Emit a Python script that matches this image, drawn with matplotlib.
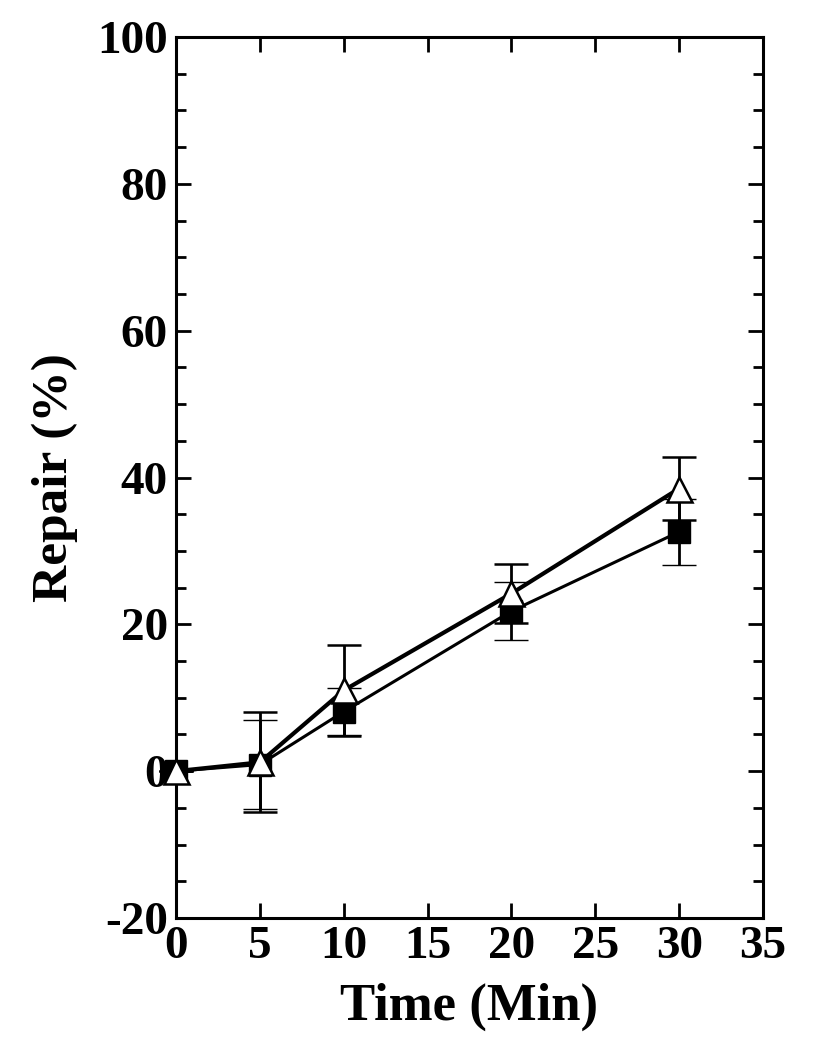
import matplotlib
matplotlib.use("Agg")
import matplotlib.pyplot as plt
from matplotlib.ticker import MultipleLocator

plt.rcParams['font.family'] = ['Liberation Serif', 'DejaVu Serif']
plt.rcParams['font.weight'] = 'bold'
plt.rcParams['axes.unicode_minus'] = False

time_min = [0, 5, 10, 20, 30]
square_vals = [0.0, 0.9, 8.1, 21.8, 32.6]
square_err = [0.0, 6.1, 3.2, 3.9, 4.5]
triangle_vals = [0.0, 1.2, 11.0, 24.2, 38.5]
triangle_err = [0.0, 6.8, 6.2, 4.0, 4.3]

x_ticks = [0, 5, 10, 15, 20, 25, 30, 35]
y_ticks = [-20, 0, 20, 40, 60, 80, 100]

fig = plt.figure(figsize=(8.15, 10.5), dpi=100)
ax = fig.add_axes([176/815, (1050-918)/1050, (763-176)/815, (918-37)/1050])

ax.errorbar(time_min, square_vals, yerr=square_err, color='black', lw=2.2,
            marker='s', ms=16.5, mfc='black', mec='black', mew=1.0,
            ecolor='black', elinewidth=2.0, capsize=12, capthick=2.4,
            zorder=3, clip_on=False)
ax.errorbar(time_min, triangle_vals, yerr=triangle_err, color='black', lw=3.0,
            marker='^', ms=18, mfc='white', mec='black', mew=1.8,
            ecolor='black', elinewidth=2.0, capsize=12, capthick=2.4,
            zorder=4, clip_on=False)

ax.set_xlim(0, 35)
ax.set_ylim(-20, 100)
ax.set_xticks(x_ticks)
ax.set_yticks(y_ticks)
ax.yaxis.set_minor_locator(MultipleLocator(5))

ax.tick_params(axis='both', which='major', direction='in', length=11, width=2.0,
               labelsize=34, pad=6)
ax.tick_params(axis='y', which='both', left=True, right=True)
ax.tick_params(axis='x', which='both', bottom=True, top=True)
ax.tick_params(axis='y', which='minor', direction='in', length=7, width=2.0)

for lab in ax.get_xticklabels() + ax.get_yticklabels():
    lab.set_fontweight('bold')

for sp in ax.spines.values():
    sp.set_linewidth(2.2)

ax.set_xlabel('Time (Min)', fontsize=38, fontweight='bold', labelpad=10)
ax.set_ylabel('Repair (%)', fontsize=37, fontweight='bold', labelpad=14)

fig.savefig('out.png', dpi=100)
